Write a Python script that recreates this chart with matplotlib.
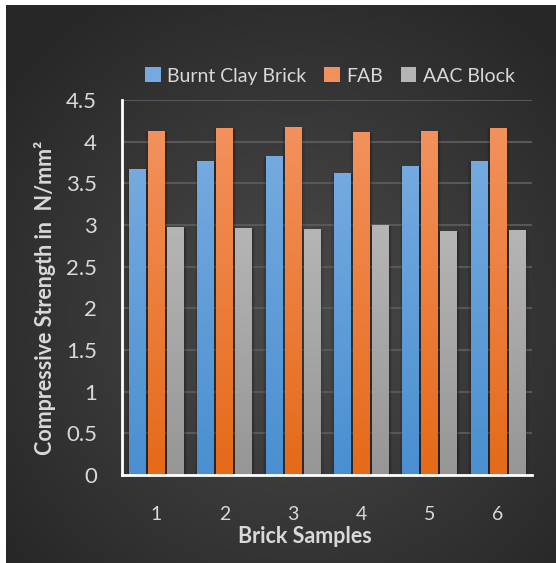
import numpy as np
import matplotlib.pyplot as plt
from matplotlib.colors import LinearSegmentedColormap
from matplotlib.patches import Patch

# data
samples = ['1', '2', '3', '4', '5', '6']
burnt_clay = [3.67, 3.77, 3.83, 3.62, 3.71, 3.77]
fab = [4.13, 4.16, 4.18, 4.12, 4.13, 4.17]
aac = [2.98, 2.96, 2.95, 3.00, 2.93, 2.94]
series_names = ['Burnt Clay Brick', 'FAB', 'AAC Block']

# (top colour, bottom colour) for the bar gradients
grads = [('#74aadf', '#4a8fd1'), ('#f3915c', '#e56a19'), ('#b5b5b5', '#969696')]
txt = '#d9d9d9'
font = ['Lato', 'DejaVu Sans']

W, H = 556, 563
fig = plt.figure(figsize=(W/100, H/100), dpi=100, facecolor='white')

# radial gradient background
bg = fig.add_axes([6/W, 0, (W-6)/W, (H-5)/H], zorder=-5)
yy, xx = np.mgrid[0:300, 0:300]
cx, cy = 300*(290/550), 300*(310/558)
r = np.sqrt(((xx-cx)/300)**2 + ((yy-cy)/300)**2)
r = np.clip(r/0.68, 0, 1)
c0, c1 = np.array([0x4b, 0x4b, 0x4b])/255, np.array([0x27, 0x27, 0x27])/255
img = c0[None, None, :]*(1-r[..., None]) + c1[None, None, :]*r[..., None]
bg.imshow(img, aspect='auto', extent=(0, 1, 0, 1), origin='upper')
bg.set_axis_off()

ax = fig.add_axes([122/W, 1-475/H, 410/W, 375/H])
ax.set_facecolor('none')

x = np.arange(1, len(samples)+1)
width = 0.235
offs = [-0.278, 0, 0.278]
allvals = [burnt_clay, fab, aac]

for vals, off, (ctop, cbot), name in zip(allvals, offs, grads, series_names):
    # soft shadow
    for k, a in [(0.05, 0.07), (0.03, 0.1), (0.012, 0.14)]:
        ax.bar(x+off+0.008, np.array(vals)-0.01, width+2*k, color='black', alpha=a,
               zorder=2, linewidth=0)
    bars = ax.bar(x+off, vals, width, color=cbot, zorder=3, linewidth=0, label=name)
    cmap = LinearSegmentedColormap.from_list('g', [cbot, ctop])
    for b in bars:
        x0, w, h = b.get_x(), b.get_width(), b.get_height()
        im = ax.imshow(np.linspace(0, 1, 100).reshape(-1, 1), cmap=cmap, origin='lower',
                       extent=(x0, x0+w, 0, h), aspect='auto', zorder=4)
        im.set_clip_path(b)

ax.set_xlim(0.5, 6.5)
ax.set_ylim(0, 4.5)
ax.set_yticks(np.arange(0, 4.51, 0.5))
ax.set_yticklabels(['0', '0.5', '1', '1.5', '2', '2.5', '3', '3.5', '4', '4.5'])
ax.set_xticks(x)
ax.set_xticklabels(samples)
ax.grid(axis='y', color='#585858', linewidth=1.5, zorder=1)
ax.set_axisbelow(True)
for s in ['top', 'right']:
    ax.spines[s].set_visible(False)
for s in ['left', 'bottom']:
    ax.spines[s].set_color('white')
    ax.spines[s].set_linewidth(2)
    ax.spines[s].set_zorder(6)
ax.tick_params(length=0, colors=txt)
for lab in ax.get_yticklabels():
    lab.set_fontsize(16)
    lab.set_family(font)
for lab in ax.get_xticklabels():
    lab.set_fontsize(14)
    lab.set_family(font)
ax.tick_params(axis='y', pad=18)
ax.tick_params(axis='x', pad=22)

ax.set_xlabel('Brick Samples', fontsize=15.5, fontweight='bold', color=txt, family=font)
ax.xaxis.set_label_coords((305-122)/410, -(526-475)/375)
ax.set_ylabel('Compressive Strength in  N/mm²', fontsize=15.5, fontweight='bold', color=txt,
              family=font)
ax.yaxis.set_label_coords(-(122-56)/410, (475-298)/375)

# legend with plain squares
handles = [Patch(facecolor=c[0], edgecolor='none') for c in grads]
leg = fig.legend(handles, series_names, loc='center', bbox_to_anchor=(330/W, 1-76/H),
                 ncol=3, frameon=False, handlelength=0.8, handleheight=0.8,
                 handletextpad=0.35, columnspacing=0.9,
                 prop={'family': font, 'size': 14})
for t in leg.get_texts():
    t.set_color(txt)

fig.savefig('out.png', dpi=100, facecolor='white')
